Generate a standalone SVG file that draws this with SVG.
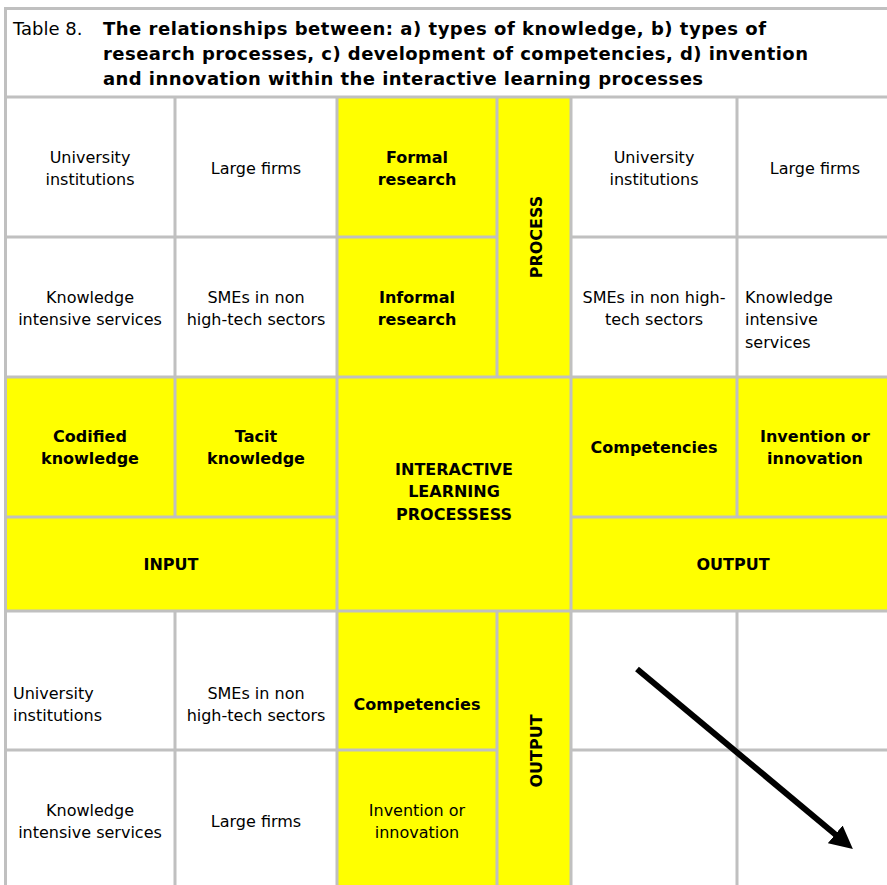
<svg xmlns="http://www.w3.org/2000/svg" width="887" height="885" viewBox="0 0 887 885">
<style>
.t{font-family:"DejaVu Sans",Verdana,sans-serif;font-size:16px;fill:#000}
.b{font-weight:bold}
.c{text-anchor:middle}
.y{fill:#ffff00}
.w{fill:#ffffff}
.grid{stroke:#c0c0c0;stroke-width:3;fill:none}
.ttl{font-family:"DejaVu Sans",Verdana,sans-serif;font-size:18px;fill:#000}
</style>
<defs>
<marker id="ah" markerUnits="userSpaceOnUse" markerWidth="24" markerHeight="24" viewBox="0 0 24 24" refX="1" refY="12" orient="auto">
<path d="M0,0.5 L23,12 L0,23.5 z" fill="#000"/>
</marker>
</defs>
<rect x="0" y="0" width="887" height="885" fill="#ffffff"/>

<g id="title">
<rect class="w" x="5" y="8" width="882" height="89"/>
<text class="ttl" x="13" y="35">Table 8.</text>
<text class="ttl b" x="103" y="35" textLength="663">The relationships between: a) types of knowledge, b) types of</text>
<text class="ttl b" x="103" y="60" textLength="705">research processes, c) development of competencies, d) invention</text>
<text class="ttl b" x="103" y="85" textLength="600">and innovation within the interactive learning processes</text>
</g>

<!-- top block -->
<g id="tl-university"><rect class="w" x="5" y="97" width="170" height="140"/><text class="t c" x="90" y="163">University</text><text class="t c" x="90" y="185">institutions</text></g>
<g id="tl-large"><rect class="w" x="175" y="97" width="162" height="140"/><text class="t c" x="256" y="174">Large firms</text></g>
<g id="formal"><rect class="y" x="337" y="97" width="160" height="140"/><text class="t b c" x="417" y="163">Formal</text><text class="t b c" x="417" y="185">research</text></g>
<g id="process"><rect class="y" x="497" y="97" width="74" height="280"/><text class="t b c" transform="translate(542,237) rotate(-90)">PROCESS</text></g>
<g id="tr-university"><rect class="w" x="571" y="97" width="166" height="140"/><text class="t c" x="654" y="163">University</text><text class="t c" x="654" y="185">institutions</text></g>
<g id="tr-large"><rect class="w" x="737" y="97" width="150" height="140"/><text class="t c" x="815" y="174">Large firms</text></g>

<g id="tl-kis"><rect class="w" x="5" y="237" width="170" height="140"/><text class="t c" x="90" y="303">Knowledge</text><text class="t c" x="90" y="325">intensive services</text></g>
<g id="tl-smes"><rect class="w" x="175" y="237" width="162" height="140"/><text class="t c" x="256" y="303">SMEs in non</text><text class="t c" x="256" y="325">high-tech sectors</text></g>
<g id="informal"><rect class="y" x="337" y="237" width="160" height="140"/><text class="t b c" x="417" y="303">Informal</text><text class="t b c" x="417" y="325">research</text></g>
<g id="tr-smes"><rect class="w" x="571" y="237" width="166" height="140"/><text class="t c" x="654" y="303">SMEs in non high-</text><text class="t c" x="654" y="325">tech sectors</text></g>
<g id="tr-kis"><rect class="w" x="737" y="237" width="150" height="140"/><text class="t" x="745" y="303">Knowledge</text><text class="t" x="745" y="325">intensive</text><text class="t" x="745" y="348">services</text></g>

<!-- middle band -->
<g id="codified"><rect class="y" x="5" y="377" width="170" height="140"/><text class="t b c" x="90" y="442">Codified</text><text class="t b c" x="90" y="464">knowledge</text></g>
<g id="tacit"><rect class="y" x="175" y="377" width="162" height="140"/><text class="t b c" x="256" y="442">Tacit</text><text class="t b c" x="256" y="464">knowledge</text></g>
<g id="ilp"><rect class="y" x="337" y="377" width="234" height="234"/><text class="t b c" x="454" y="475">INTERACTIVE</text><text class="t b c" x="454" y="497">LEARNING</text><text class="t b c" x="454" y="520">PROCESSESS</text></g>
<g id="competencies-r"><rect class="y" x="571" y="377" width="166" height="140"/><text class="t b c" x="654" y="453">Competencies</text></g>
<g id="invention-r"><rect class="y" x="737" y="377" width="150" height="140"/><text class="t b c" x="815" y="442">Invention or</text><text class="t b c" x="815" y="464">innovation</text></g>
<g id="input"><rect class="y" x="5" y="517" width="332" height="94"/><text class="t b c" x="171" y="570">INPUT</text></g>
<g id="output-r"><rect class="y" x="571" y="517" width="316" height="94"/><text class="t b c" x="733" y="570">OUTPUT</text></g>

<!-- bottom block -->
<g id="bl-university"><rect class="w" x="5" y="611" width="170" height="139"/><text class="t" x="13" y="699">University</text><text class="t" x="13" y="721">institutions</text></g>
<g id="bl-smes"><rect class="w" x="175" y="611" width="162" height="139"/><text class="t c" x="256" y="699">SMEs in non</text><text class="t c" x="256" y="721">high-tech sectors</text></g>
<g id="competencies-b"><rect class="y" x="337" y="611" width="160" height="139"/><text class="t b c" x="417" y="710">Competencies</text></g>
<g id="output-b"><rect class="y" x="497" y="611" width="74" height="274"/><text class="t b c" transform="translate(542,751) rotate(-90)">OUTPUT</text></g>
<g id="br-empty1"><rect class="w" x="571" y="611" width="166" height="139"/></g>
<g id="br-empty2"><rect class="w" x="737" y="611" width="150" height="139"/></g>

<g id="bl-kis"><rect class="w" x="5" y="750" width="170" height="135"/><text class="t c" x="90" y="816">Knowledge</text><text class="t c" x="90" y="838">intensive services</text></g>
<g id="bl-large"><rect class="w" x="175" y="750" width="162" height="135"/><text class="t c" x="256" y="827">Large firms</text></g>
<g id="invention-b"><rect class="y" x="337" y="750" width="160" height="135"/><text class="t c" x="417" y="816">Invention or</text><text class="t c" x="417" y="838">innovation</text></g>
<g id="br-empty3"><rect class="w" x="571" y="750" width="166" height="135"/></g>
<g id="br-empty4"><rect class="w" x="737" y="750" width="150" height="135"/></g>

<g id="grid" class="grid">
<path d="M4,8.5 H887 M4,97 H887 M4,237 H497 M571,237 H887 M4,377 H887 M4,517 H337 M571,517 H887 M4,611 H887 M4,750 H497 M571,750 H887"/>
<path d="M5.5,7 V885 M175,97 V517 M175,611 V885 M337,97 V885 M497,97 V377 M497,611 V885 M571,97 V885 M737,97 V517 M737,611 V885"/>
</g>

<g id="connectors">
<line x1="637" y1="669" x2="836" y2="835" stroke="#000" stroke-width="6" marker-end="url(#ah)"/>
</g>
</svg>
